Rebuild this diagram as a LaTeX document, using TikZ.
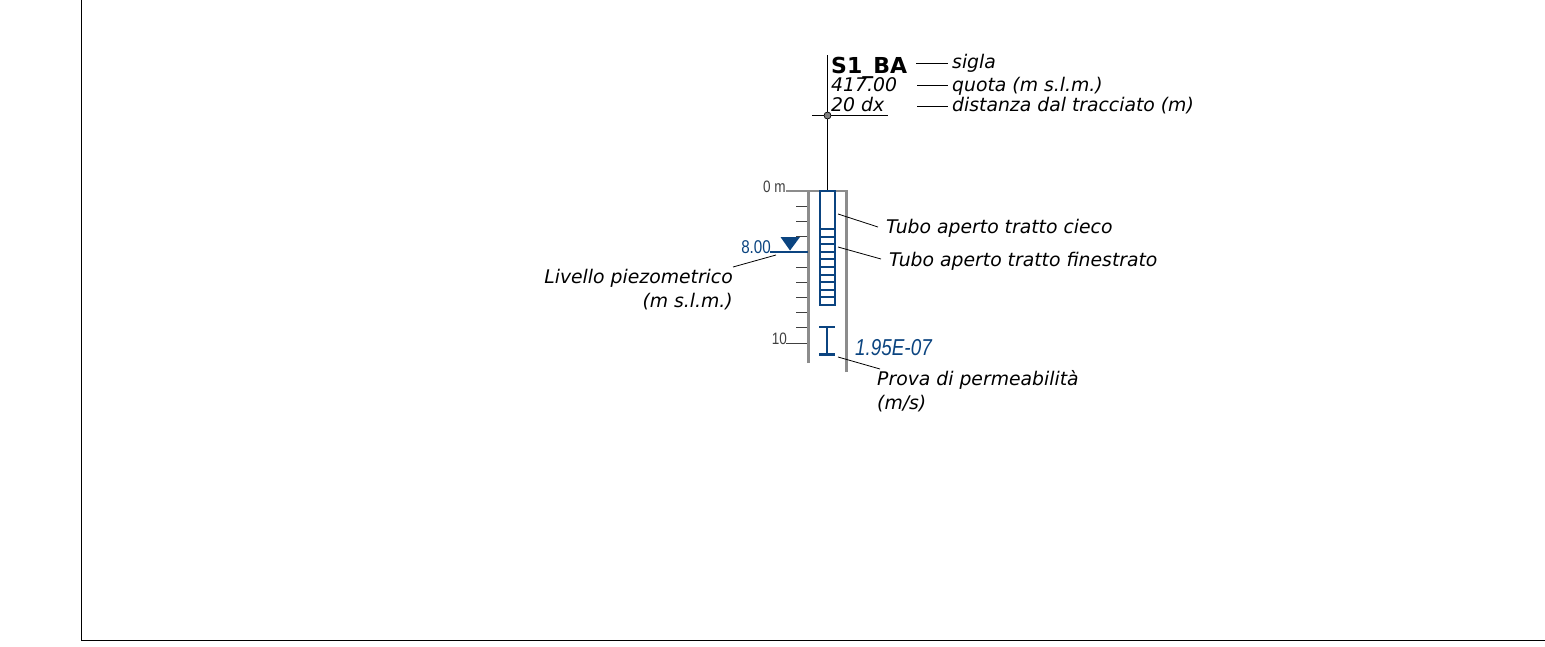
\documentclass[tikz,border=0pt]{standalone}
\usepackage{fontspec}
\setmainfont{DejaVu Sans}
\newfontfamily\narrowfont[FakeStretch=0.82]{Liberation Sans}
\definecolor{pipeblue}{HTML}{0B4480}
\definecolor{greyline}{HTML}{8C8C8C}
\definecolor{darktext}{HTML}{404040}
\tikzset{
  x=1pt,y=-1pt,
  lab/.style={font=\fontsize{18.8}{22}\selectfont\itshape,inner sep=0pt,anchor=base west,text=black},
  labr/.style={lab,anchor=base east},
  head/.style={font=\fontsize{22}{26}\selectfont\bfseries,inner sep=0pt,anchor=base west},
  scale text/.style={font=\fontsize{16.5}{20}\selectfont\narrowfont,inner sep=0pt,text=darktext},
  blue text/.style={font=\fontsize{18.5}{22}\selectfont\narrowfont,inner sep=0pt,text=pipeblue},
  leader/.style={draw=black,line width=0.8pt},
  frame/.style={draw=black,line width=1pt},
  casing/.style={draw=greyline,line width=2.4pt},
  tick/.style={draw=darktext,line width=0.8pt},
  pipe/.style={draw=pipeblue,line width=2pt},
  stem/.style={draw=black,line width=1.2pt},
}
\begin{document}
\begin{tikzpicture}
\useasboundingbox (0,0) rectangle (1545,646);
\fill[white] (0,0) rectangle (1545,646);
% frame
\coordinate (f1) at (81,0);
\coordinate (f2) at (81,640.5);
\coordinate (f3) at (1545,640.5);
\draw[frame] (f1) -- (f2) -- (f3);
% header
\node[head] (sigla) at (831,73.5) {S1\_BA};
\node[lab] (quota) at (831,91.3) {417.00};
\node[lab] (dist) at (831,111.5) {20 dx};
\node[lab] (tsigla) at (952,68.8) {sigla};
\node[lab] (tquota) at (952,91.3) {quota (m s.l.m.)};
\node[lab] (tdist) at (952,111.8) {distanza dal tracciato (m)};
\coordinate (s1) at (916,63); \coordinate (s2) at (948,63);
\coordinate (q1) at (917,85); \coordinate (q2) at (948,85);
\coordinate (d1) at (917,106); \coordinate (d2) at (948,106);
\draw[leader] (s1) -- (s2);
\draw[leader] (q1) -- (q2);
\draw[leader] (d1) -- (d2);
\coordinate (stemtop) at (827.5,55);
\coordinate (hw) at (812,115.5);
\coordinate (he) at (888,115.5);
\coordinate (pipetop) at (827.5,191);
\draw[stem] (stemtop) -- (pipetop);
\draw[stem] (hw) -- (he);
\node[circle,draw=black,fill=gray,line width=0.7pt,minimum size=7pt,inner sep=0pt] (pt) at (827.5,115.5) {};
% scale ticks
\foreach \yy in {206,221.5,236.7,267,282,297,312,327}
  \draw[tick] (796,\yy) -- (808,\yy);
\draw[tick] (786,343) -- (808,343);
% casing
\coordinate (cl0) at (808.5,190.7); \coordinate (cl1) at (808.5,363);
\coordinate (cr0) at (846.5,190.7); \coordinate (cr1) at (846.5,372);
\draw[casing] (cl1) -- (cl0);
\draw[casing] (cr1) -- (cr0);
\draw[casing,line width=1.8pt] (786,190.7) -- (847.5,190.7);
% pipe
\draw[pipe] (820,191) rectangle (835,305);
\foreach \i in {0,...,9}
  \draw[pipe] (820,229+7.6*\i) -- (835,229+7.6*\i);
% water level
\draw[pipe,line width=2.2pt] (770,251.7) -- (808,251.7);
\fill[pipeblue] (780.5,237) -- (800,237) -- (790,250.5) -- cycle;
% permeability marker
\draw[pipe,line width=2.4pt] (819,327) -- (835,327) (827,327) -- (827,354.5) (819,354.5) -- (835,354.5);
% scale texts
\node[scale text,anchor=base west] (z0) at (763,192) {0 m};
\node[scale text,anchor=base east] (z10) at (787,344) {10};
\node[blue text,anchor=base east] (lev) at (771,253) {8.00};
\node[blue text,anchor=base west,font=\fontsize{23}{27}\selectfont\narrowfont\itshape] (perm) at (855,355) {1.95E-07};
% callouts
\node[lab] (tc) at (886,233) {Tubo aperto tratto cieco};
\node[lab] (tf) at (889,266) {Tubo aperto tratto finestrato};
\node[labr] (lp) at (733,283) {Livello piezometrico};
\node[labr] (lpu) at (733,307) {(m s.l.m.)};
\node[lab] (pp) at (877,385) {Prova di permeabilità};
\node[lab] (ppu) at (877,409) {(m/s)};
\coordinate (a1) at (838,214); \coordinate (a2) at (878,227);
\coordinate (b1) at (838,247); \coordinate (b2) at (881,259);
\coordinate (c1) at (776,255); \coordinate (c2) at (733,267);
\coordinate (e1) at (838,357); \coordinate (e2) at (880,369);
\draw[leader] (a1) -- (a2);
\draw[leader] (b1) -- (b2);
\draw[leader] (c1) -- (c2);
\draw[leader] (e1) -- (e2);
\end{tikzpicture}
\end{document}
